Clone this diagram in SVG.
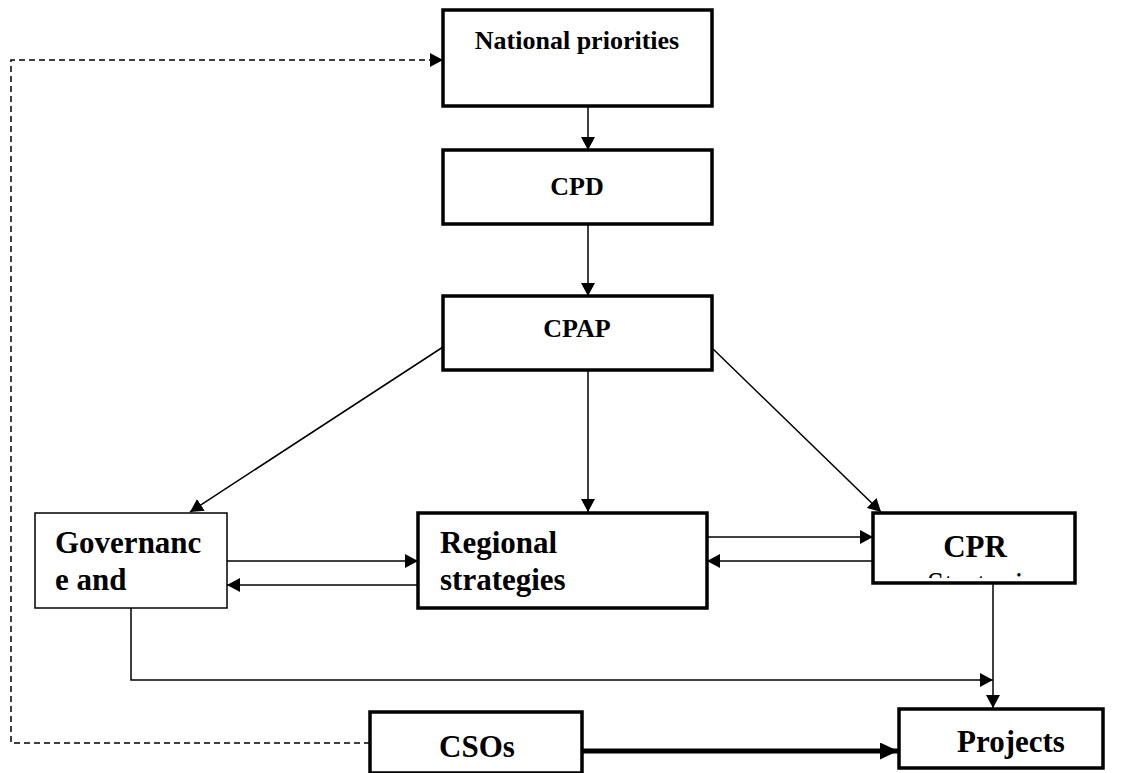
<svg xmlns="http://www.w3.org/2000/svg" width="1132" height="773" viewBox="0 0 1132 773">
<style>
.box{fill:#fff;stroke:#000;stroke-width:3.5}
.thin{fill:#fff;stroke:#000;stroke-width:1.5}
.lbl{font-family:"Liberation Serif","Times New Roman",serif;font-weight:bold;fill:#000}
.sm{font-size:26px}
.lg{font-size:31px}
.c{stroke:#000;stroke-width:1.5;fill:none}
</style>
<defs>
<marker id="ah" markerUnits="userSpaceOnUse" markerWidth="14" markerHeight="14" refX="13" refY="7" orient="auto">
<path d="M0,0 L13,7 L0,14 Z" fill="#000"/>
</marker>
<marker id="ahb" markerUnits="userSpaceOnUse" markerWidth="19" markerHeight="17" refX="18" refY="8.5" orient="auto">
<path d="M0,0 L18,8.5 L0,17 Z" fill="#000"/>
</marker>
<clipPath id="cprclip"><rect x="875" y="515" width="198" height="63"/></clipPath>
</defs>
<g id="connectors">
<path class="c" d="M588,106 L588,150" marker-end="url(#ah)"/>
<path class="c" d="M588,224 L588,296" marker-end="url(#ah)"/>
<path class="c" d="M443,347 L190,512" marker-end="url(#ah)"/>
<path class="c" d="M588,370 L588,512" marker-end="url(#ah)"/>
<path class="c" d="M711,347 L881,512" marker-end="url(#ah)"/>
<path class="c" d="M227,561 L418,561" marker-end="url(#ah)"/>
<path class="c" d="M418,585 L227,585" marker-end="url(#ah)"/>
<path class="c" d="M707,537 L873,537" marker-end="url(#ah)"/>
<path class="c" d="M873,561 L707,561" marker-end="url(#ah)"/>
<path class="c" d="M993,583 L993,708" marker-end="url(#ah)"/>
<path class="c" d="M131,608 L131,680 L993,680" marker-end="url(#ah)"/>
<path d="M582,751 L898,751" stroke="#000" stroke-width="5" fill="none" marker-end="url(#ahb)"/>
<path d="M370,743 L11,743 L11,60 L443,60" stroke="#000" stroke-width="1.5" stroke-dasharray="6,4" fill="none" marker-end="url(#ah)"/>
</g>
<g id="national">
<rect class="box" x="443" y="10" width="269" height="96"/>
<text class="lbl sm" x="577" y="49" text-anchor="middle">National priorities</text>
</g>
<g id="cpd">
<rect class="box" x="443" y="150" width="269" height="74"/>
<text class="lbl sm" x="577" y="195" text-anchor="middle">CPD</text>
</g>
<g id="cpap">
<rect class="box" x="443" y="296" width="269" height="74"/>
<text class="lbl sm" x="577" y="337" text-anchor="middle">CPAP</text>
</g>
<g id="governance">
<rect class="thin" x="35" y="513" width="192" height="95"/>
<text class="lbl lg" x="55" y="553">Governanc</text>
<text class="lbl lg" x="55" y="590">e and</text>
</g>
<g id="regional">
<rect class="box" x="418" y="513" width="289" height="95"/>
<text class="lbl lg" x="440" y="553">Regional</text>
<text class="lbl lg" x="440" y="590">strategies</text>
</g>
<g id="cpr">
<rect class="box" x="873" y="513" width="202" height="70"/>
<text class="lbl lg" x="975" y="557" text-anchor="middle">CPR</text>
<text clip-path="url(#cprclip)" font-family="Liberation Serif,serif" font-size="31" x="927" y="594" fill="#000">Strategies</text>
</g>
<g id="projects">
<rect class="box" x="899" y="709" width="204" height="59"/>
<text class="lbl lg" x="957" y="752">Projects</text>
</g>
<g id="csos">
<rect class="box" x="370" y="712" width="212" height="61" stroke-width="5"/>
<text class="lbl lg" x="477" y="757" text-anchor="middle">CSOs</text>
</g>
</svg>
